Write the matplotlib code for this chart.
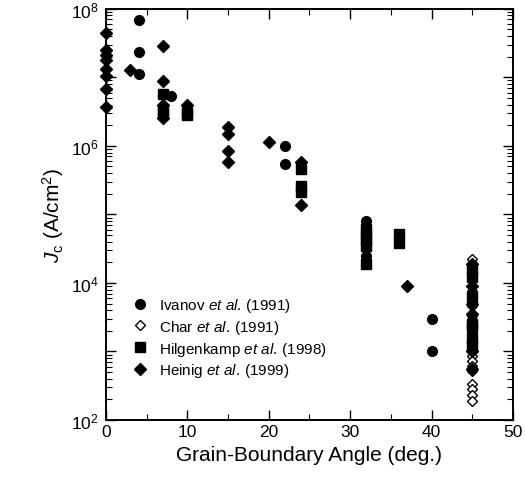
import numpy as np
import matplotlib.pyplot as plt
from matplotlib.ticker import FixedLocator, FuncFormatter, MultipleLocator

plt.rcParams['font.family'] = ['Liberation Sans', 'DejaVu Sans']
plt.rcParams['mathtext.fontset'] = 'custom'
plt.rcParams['mathtext.rm'] = 'Liberation Sans'
plt.rcParams['mathtext.it'] = 'Liberation Sans:italic'

# values; Jc given as log10(A/cm^2)
ivanov_x = [4, 4, 4, 8, 22, 22, 32, 32, 40, 40, 45, 45, 45, 45, 45]
ivanov_logjc = [7.83, 7.37, 7.05, 6.73, 6.00, 5.74, 4.91, 4.40, 3.47, 3.01,
                4.25, 4.12, 3.85, 3.45, 3.15]

char_x = [45] * 20
char_logjc = [4.35, 4.20, 4.05, 3.96, 3.88, 3.74, 3.66, 3.52, 3.30, 3.20,
              3.08, 3.01, 2.93, 2.86, 2.79, 2.72, 2.53, 2.45, 2.36, 2.28]

hilg_x = [7, 7, 7, 10, 10, 24, 24, 24, 32, 32, 32, 32, 32, 36, 36,
          45, 45, 45, 45, 45, 45, 45]
hilg_logjc = [6.76, 6.52, 6.46, 6.50, 6.45, 5.66, 5.42, 5.32, 4.78, 4.70, 4.62,
              4.54, 4.28, 4.72, 4.58, 4.18, 4.08, 3.80, 3.40, 3.35, 3.20, 3.10]

heinig_x = [0, 0, 0, 0, 0, 0, 0, 0, 3, 7, 7, 7, 7, 10, 15, 15, 15, 15, 20,
            24, 24, 37, 45, 45, 45, 45, 45, 45]
heinig_logjc = [7.64, 7.40, 7.32, 7.25, 7.12, 7.02, 6.83, 6.57, 7.10, 7.46,
                6.95, 6.60, 6.40, 6.59, 6.28, 6.18, 5.93, 5.77, 6.05, 5.76,
                5.14, 3.96, 4.28, 3.95, 3.70, 3.55, 3.00, 2.75]

labels = [r'Ivanov $\it{et\ al.}\,$(1991)',
          r'Char $\it{et\ al.}\,$(1991)',
          r'Hilgenkamp $\it{et\ al.}\,$(1998)',
          r'Heinig $\it{et\ al.}\,$(1999)']

fig = plt.figure(figsize=(5.25, 4.89), dpi=100)
ax = fig.add_axes([0.202, 0.139, 0.775, 0.841])

h2, = ax.plot(char_x, 10 ** np.array(char_logjc), 'D', ms=5.5, mfc='white',
              mec='black', mew=1.0, ls='none', clip_on=False)
h1, = ax.plot(ivanov_x, 10 ** np.array(ivanov_logjc), 'o', ms=7, color='black',
              ls='none', clip_on=False)
h3, = ax.plot(hilg_x, 10 ** np.array(hilg_logjc), 's', ms=6.5, color='black',
              ls='none', clip_on=False)
h4, = ax.plot(heinig_x, 10 ** np.array(heinig_logjc), 'D', ms=6, color='black',
              ls='none', clip_on=False)

ax.set_yscale('log')
ax.set_xlim(0, 50)
ax.set_ylim(1e2, 1e8)

ax.xaxis.set_major_locator(MultipleLocator(10))
ax.xaxis.set_minor_locator(MultipleLocator(5))
ax.yaxis.set_major_locator(FixedLocator([10.0 ** k for k in range(2, 9)]))
ax.yaxis.set_minor_locator(FixedLocator([m * 10.0 ** k for k in range(2, 8) for m in range(2, 10)]))


def ylab(v, pos):
    k = int(round(np.log10(v)))
    return r'$\mathdefault{10^{%d}}$' % k if k % 2 == 0 else ''


ax.yaxis.set_major_formatter(FuncFormatter(ylab))
ax.tick_params(which='both', direction='in', top=True, right=True, labelsize=12.5)
ax.tick_params(which='major', length=7, width=1.0)
ax.tick_params(which='minor', length=4, width=0.8)
ax.tick_params(axis='x', pad=3)
ax.tick_params(axis='y', pad=5)
for s in ax.spines.values():
    s.set_linewidth(1.4)

ax.set_xlabel('Grain-Boundary Angle (deg.)', fontsize=15, labelpad=4)
ax.set_ylabel(r'$J_{\rm c}$ (A/cm$^2$)', fontsize=15, labelpad=4)

ax.legend([h1, h2, h3, h4], labels, loc='upper left', bbox_to_anchor=(0.022, 0.335),
          frameon=False, fontsize=11, handletextpad=0.5, labelspacing=0.25,
          handlelength=1.5)

fig.savefig('out.png', dpi=100)
